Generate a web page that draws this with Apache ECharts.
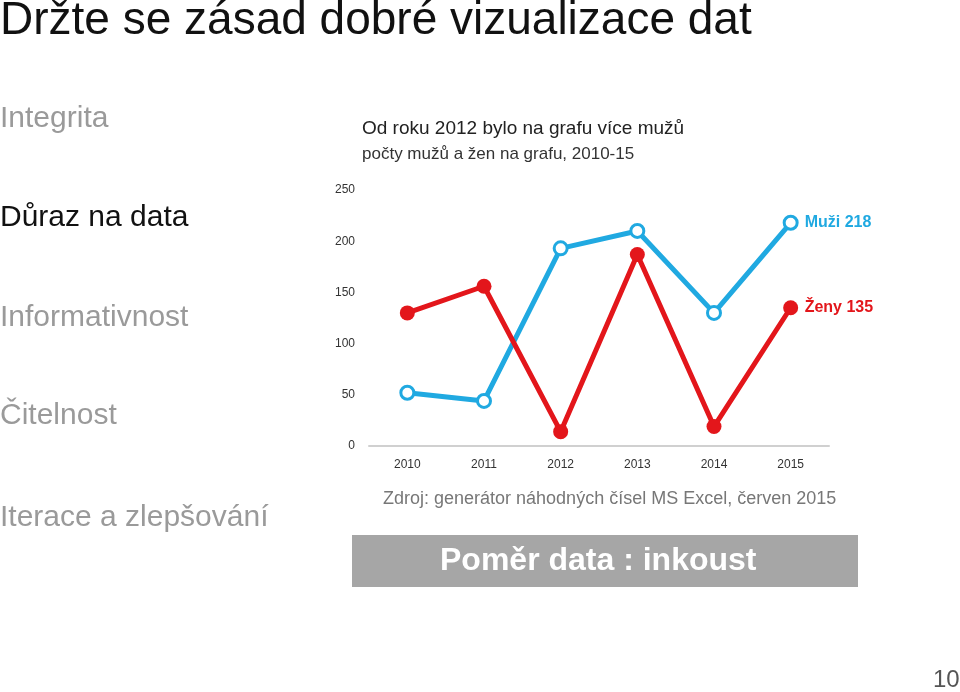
<!DOCTYPE html>
<html lang="cs">
<head>
<meta charset="UTF-8">
<title>Poměr data : inkoust</title>
<script src="https://cdn.jsdelivr.net/npm/echarts@6/dist/echarts.min.js"></script>
<style>html,body{margin:0;padding:0;background:#fff}#chart{width:960px;height:692px}</style>
</head>
<body>
<div id="chart"></div>
<script>
var years = ['2010', '2011', '2012', '2013', '2014', '2015'];
var muzi = [52, 44, 193, 210, 130, 218];
var zeny = [130, 156, 14, 187, 19, 135];
var menu = ['Integrita', 'Důraz na data', 'Informativnost', 'Čitelnost', 'Iterace a zlepšování'];
var menuY = [118, 217, 317, 415, 517];

var blue = '#20a9e1', red = '#e3161b';
var chart = echarts.init(document.getElementById('chart'), null, {renderer: 'canvas'});

var graphics = [
    {type: 'text', left: 0, top: -2, style: {text: 'Držte se zásad dobré vizualizace dat', fontSize: 46, fill: '#111', fontFamily: 'Liberation Sans'}},
    {type: 'text', left: 362, top: 119, style: {text: 'Od roku 2012 bylo na grafu více mužů', fontSize: 19, fill: '#222', fontFamily: 'Liberation Sans'}},
    {type: 'text', left: 362, top: 146, style: {text: 'počty mužů a žen na grafu, 2010-15', fontSize: 17, fill: '#333', fontFamily: 'Liberation Sans'}},
    {type: 'text', left: 383, top: 490, style: {text: 'Zdroj: generátor náhodných čísel MS Excel, červen 2015', fontSize: 18, fill: '#777', fontFamily: 'Liberation Sans'}},
    {type: 'rect', left: 352, top: 535, shape: {width: 506, height: 52}, style: {fill: '#a6a6a6'}},
    {type: 'text', left: 440, top: 545, style: {text: 'Poměr data : inkoust', fontSize: 32, fontWeight: 'bold', fill: '#fff', fontFamily: 'Liberation Sans'}},
    {type: 'text', left: 933, top: 668, style: {text: '10', fontSize: 24, fill: '#555', fontFamily: 'Liberation Sans'}}
];
menu.forEach(function (m, i) {
    graphics.push({type: 'text', left: 0, top: menuY[i] - 14, style: {text: m, fontSize: 30, fill: i === 1 ? '#111' : '#9a9a9a', fontFamily: 'Liberation Sans'}});
});

chart.setOption({
    animation: false,
    textStyle: {fontFamily: 'Liberation Sans'},
    grid: {left: 369, right: 131, top: 190, bottom: 246},
    graphic: graphics,
    xAxis: {
        type: 'category', data: years, boundaryGap: true,
        axisLine: {lineStyle: {color: '#d0d0d0', width: 2}},
        axisTick: {show: false},
        axisLabel: {color: '#333', fontSize: 12, margin: 13}
    },
    yAxis: {
        type: 'value', min: 0, max: 250, interval: 50,
        axisLine: {show: false}, axisTick: {show: false},
        splitLine: {show: false},
        axisLabel: {color: '#333', fontSize: 12, margin: 14}
    },
    series: [
        {
            name: 'Muži', type: 'line', data: muzi,
            lineStyle: {color: blue, width: 5}, itemStyle: {color: '#fff', borderColor: blue, borderWidth: 3},
            symbol: 'circle', symbolSize: 13,
            endLabel: {show: true, formatter: '{a} {c}', color: blue, fontSize: 16, fontWeight: 'bold', distance: 14}
        },
        {
            name: 'Ženy', type: 'line', data: zeny,
            lineStyle: {color: red, width: 5}, itemStyle: {color: red},
            symbol: 'circle', symbolSize: 15,
            endLabel: {show: true, formatter: '{a} {c}', color: red, fontSize: 16, fontWeight: 'bold', distance: 14}
        }
    ]
});
</script>
</body>
</html>
